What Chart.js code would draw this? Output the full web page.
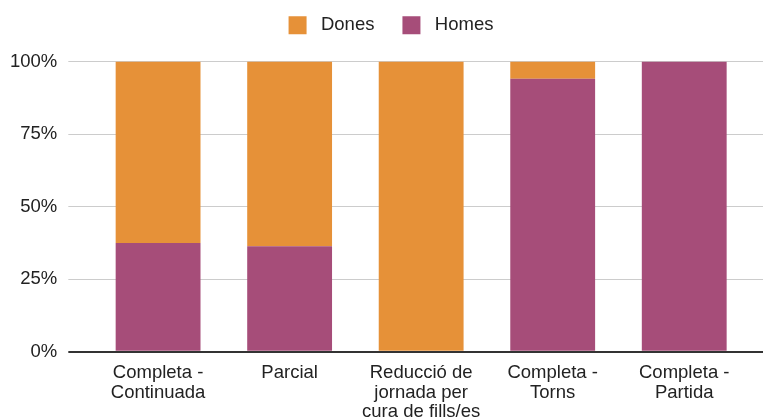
<!DOCTYPE html>
<html>
<head>
<meta charset="utf-8">
<script src="https://cdn.jsdelivr.net/npm/chart.js@4"></script>
<style>
  html, body { margin: 0; padding: 0; background: #fff; }
  #wrap { width: 763px; height: 417px; position: relative; }
</style>
</head>
<body>
<div id="wrap"><canvas id="jornadaChart"></canvas></div>
<script>
const categories = [
  ['Completa -', 'Continuada'],
  ['Parcial'],
  ['Reducció de', 'jornada per', 'cura de fills/es'],
  ['Completa -', 'Torns'],
  ['Completa -', 'Partida']
];
const homes = [37.5, 36.4, 0, 94.1, 100];
const dones = [62.5, 63.6, 100, 5.9, 0];
const yTicks = [0, 25, 50, 75, 100];

const font = { family: "'Liberation Sans', Arial, sans-serif", size: 18.5, lineHeight: 1.03 };
const gridColor = ctx => (ctx.tick && ctx.tick.value === 0 ? '#333333' : '#cccccc');
const gridWidth = ctx => (ctx.tick && ctx.tick.value === 0 ? 2 : 1);

// leave some room between the legend and the bars, nudge the legend right a bit
const legendGap = {
  id: 'legendGap',
  beforeInit(chart) {
    const fit = chart.legend.fit;
    chart.legend.fit = function () {
      fit.call(this);
      this.height += 17;
    };
  },
  afterLayout(chart) {
    chart.legend.left += 20;
  }
};

new Chart(document.getElementById('jornadaChart'), {
  type: 'bar',
  data: {
    labels: categories,
    datasets: [
      { label: 'Homes', data: homes, backgroundColor: '#a64d79' },
      { label: 'Dones', data: dones, backgroundColor: '#e69138' }
    ]
  },
  plugins: [legendGap],
  options: {
    responsive: true,
    maintainAspectRatio: false,
    animation: false,
    layout: { padding: { left: -1, right: 0, top: -12, bottom: -8 } },
    datasets: { bar: { categoryPercentage: 1, barPercentage: 0.645 } },
    plugins: {
      tooltip: { enabled: false },
      legend: {
        position: 'top',
        reverse: true,
        labels: {
          color: '#222',
          font: font,
          boxWidth: 18,
          boxHeight: 18,
          padding: 28,
          generateLabels: chart => Chart.defaults.plugins.legend.labels.generateLabels(chart)
            .map(item => Object.assign(item, { text: ' ' + item.text }))
        }
      }
    },
    scales: {
      x: {
        stacked: true,
        grid: { display: false },
        border: { display: false },
        ticks: { color: '#222', font: font, maxRotation: 0, autoSkip: false, padding: 4 }
      },
      y: {
        stacked: true,
        min: 0,
        max: 100,
        afterBuildTicks: axis => { axis.ticks = yTicks.map(v => ({ value: v })); },
        border: { display: false },
        grid: { color: gridColor, lineWidth: gridWidth, tickLength: 24 },
        ticks: { color: '#222', font: font, padding: 11, callback: v => v + '%' }
      },
      yRight: {
        position: 'right',
        min: 0,
        max: 100,
        afterBuildTicks: axis => { axis.ticks = yTicks.map(v => ({ value: v })); },
        border: { display: false },
        grid: { color: gridColor, lineWidth: gridWidth, tickLength: 13, drawOnChartArea: false },
        ticks: { padding: 0, callback: () => '' }
      }
    }
  }
});
</script>
</body>
</html>
